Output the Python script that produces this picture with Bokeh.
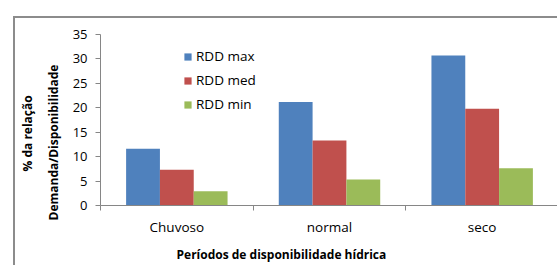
from bokeh.plotting import figure
from bokeh.models import (ColumnDataSource, Range1d, LinearAxis, FixedTicker,
                          Legend, LegendItem, Title)
from bokeh.transform import dodge
from bokeh.embed import file_html
from bokeh.resources import INLINE

categories = ["Chuvoso", "normal", "seco"]
rdd_max = [11.6, 21.2, 30.7]
rdd_med = [7.3, 13.3, 19.8]
rdd_min = [2.9, 5.3, 7.6]
series_names = ["RDD max", "RDD med", "RDD min"]
colors = ["#4F81BD", "#C0504D", "#9BBB59"]
y_ticks = [0, 5, 10, 15, 20, 25, 30, 35]

FONT = "Open Sans"
AXIS_COLOR = "#868686"

centres = [i + 0.5 for i in range(len(categories))]
src = ColumnDataSource(dict(x=centres, cat=categories, rmax=rdd_max, rmed=rdd_med, rmin=rdd_min))

p = figure(width=544, height=249, x_range=Range1d(0, len(categories)),
           y_range=Range1d(0, 35), x_axis_location=None, y_axis_location=None,
           output_backend="svg", toolbar_location=None,
           min_border_left=85, min_border_right=1, min_border_top=16, min_border_bottom=58)
p.margin = (16, 0, 0, 13)
p.styles = {"border-left": "2px solid #8C8C8C", "border-top": "2px solid #8C8C8C",
            "box-sizing": "border-box"}
p.outline_line_color = None
p.xgrid.visible = False
p.ygrid.visible = False
p.background_fill_color = "white"
p.border_fill_color = "white"

bw = 0.2215
renderers = []
for off, col, name, field in zip([-bw, 0, bw], colors, series_names, ["rmax", "rmed", "rmin"]):
    r = p.vbar(x=dodge("x", off), top=field, width=bw, source=src,
               fill_color=col, line_color=None)
    renderers.append((name, r))

# y axis
yax = LinearAxis(ticker=FixedTicker(ticks=y_ticks, minor_ticks=[]))
yax.axis_line_color = AXIS_COLOR
yax.major_tick_line_color = AXIS_COLOR
yax.major_tick_out = 5
yax.major_tick_in = 0
yax.minor_tick_line_color = None
yax.major_label_standoff = 8
yax.major_label_text_font = FONT
yax.major_label_text_font_size = "13px"
yax.major_label_text_color = "#000000"
p.add_layout(yax, "left")

# x axis: labels at category centres, tick marks at category boundaries
xax = LinearAxis(ticker=FixedTicker(ticks=centres,
                                    minor_ticks=list(range(len(categories) + 1))))
xax.major_label_overrides = {c: name for c, name in zip(centres, categories)}
xax.axis_line_color = AXIS_COLOR
xax.major_tick_line_color = None
xax.minor_tick_line_color = AXIS_COLOR
xax.minor_tick_out = 5
xax.minor_tick_in = 0
xax.major_tick_out = 5
xax.major_label_standoff = 7
xax.major_label_text_font = FONT
xax.major_label_text_font_size = "13.5px"
xax.major_label_text_color = "#000000"
p.add_layout(xax, "below")

legend = Legend(items=[LegendItem(label=n, renderers=[r]) for n, r in renderers],
                location=(83, 91), orientation="vertical")
legend.border_line_color = None
legend.background_fill_alpha = 0
legend.padding = 0
legend.margin = 0
legend.spacing = 4
legend.glyph_width = 9
legend.glyph_height = 9
legend.label_height = 20
legend.label_standoff = 4
legend.label_text_font = FONT
legend.label_text_font_size = "13.5px"
legend.label_text_color = "#000000"
p.add_layout(legend, "center")

t1 = Title(text="Demanda/Disponibilidade", align="left", offset=-15, standoff=15,
           text_font=FONT, text_font_size="12px", text_font_style="bold", text_color="#000000")
t2 = Title(text="% da relação", align="left", offset=34, standoff=0,
           text_font=FONT, text_font_size="12px", text_font_style="bold", text_color="#000000")
p.add_layout(t1, "left")
p.add_layout(t2, "left")

tx = Title(text="Períodos de disponibilidade hídrica", align="left", offset=76, standoff=10,
           text_font=FONT, text_font_size="12px", text_font_style="bold", text_color="#000000")
p.add_layout(tx, "below")

open("out.html", "w").write(file_html(p, INLINE))
